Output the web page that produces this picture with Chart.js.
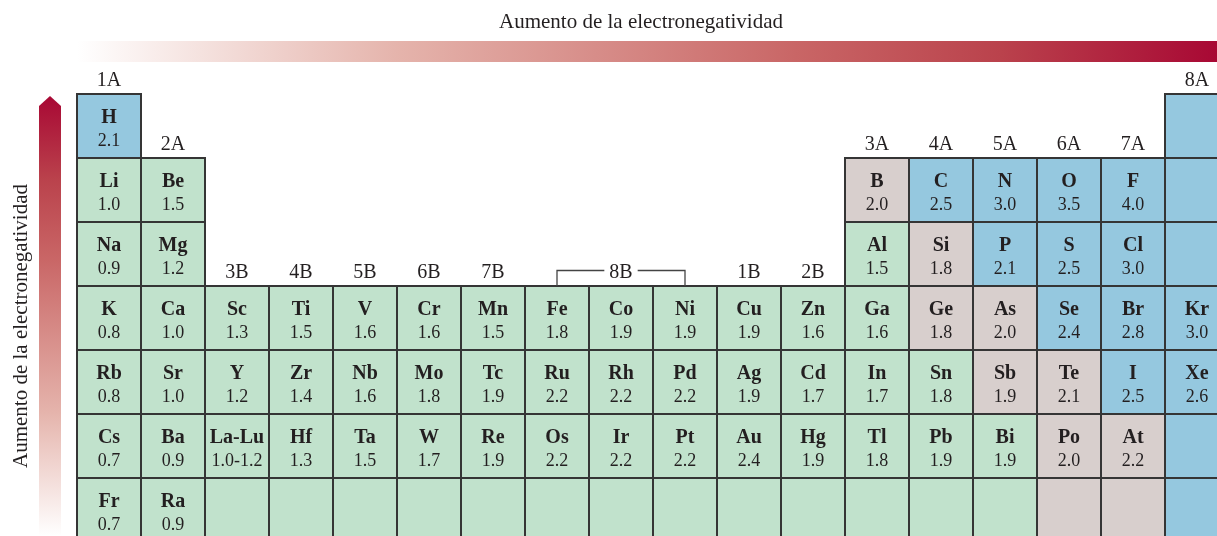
<!DOCTYPE html>
<html>
<head>
<meta charset="utf-8">
<script src="https://cdn.jsdelivr.net/npm/chart.js@4/dist/chart.umd.min.js"></script>
<style>
  html, body { margin: 0; padding: 0; background: #fff; }
  #tabla { display: block; }
</style>
</head>
<body>
<canvas id="tabla" width="1217" height="536"></canvas>
<script>
// Electronegatividad por periodo (columna 1..18). _ = sin casilla, '' = casilla vacía
const _ = null;

const period1Symbols = ['H', _, _, _, _, _, _, _, _, _, _, _, _, _, _, _, _, ''];
const period1Values  = [2.1, _, _, _, _, _, _, _, _, _, _, _, _, _, _, _, _, _];
const period1Kinds   = 'n................n';

const period2Symbols = ['Li', 'Be', _, _, _, _, _, _, _, _, _, _, 'B', 'C', 'N', 'O', 'F', ''];
const period2Values  = [1.0, 1.5, _, _, _, _, _, _, _, _, _, _, 2.0, 2.5, 3.0, 3.5, 4.0, _];
const period2Kinds   = 'mm..........snnnnn';

const period3Symbols = ['Na', 'Mg', _, _, _, _, _, _, _, _, _, _, 'Al', 'Si', 'P', 'S', 'Cl', ''];
const period3Values  = [0.9, 1.2, _, _, _, _, _, _, _, _, _, _, 1.5, 1.8, 2.1, 2.5, 3.0, _];
const period3Kinds   = 'mm..........msnnnn';

const period4Symbols = ['K', 'Ca', 'Sc', 'Ti', 'V', 'Cr', 'Mn', 'Fe', 'Co', 'Ni', 'Cu', 'Zn', 'Ga', 'Ge', 'As', 'Se', 'Br', 'Kr'];
const period4Values  = [0.8, 1.0, 1.3, 1.5, 1.6, 1.6, 1.5, 1.8, 1.9, 1.9, 1.9, 1.6, 1.6, 1.8, 2.0, 2.4, 2.8, 3.0];
const period4Kinds   = 'mmmmmmmmmmmmmssnnn';

const period5Symbols = ['Rb', 'Sr', 'Y', 'Zr', 'Nb', 'Mo', 'Tc', 'Ru', 'Rh', 'Pd', 'Ag', 'Cd', 'In', 'Sn', 'Sb', 'Te', 'I', 'Xe'];
const period5Values  = [0.8, 1.0, 1.2, 1.4, 1.6, 1.8, 1.9, 2.2, 2.2, 2.2, 1.9, 1.7, 1.7, 1.8, 1.9, 2.1, 2.5, 2.6];
const period5Kinds   = 'mmmmmmmmmmmmmmssnn';

const period6Symbols = ['Cs', 'Ba', 'La-Lu', 'Hf', 'Ta', 'W', 'Re', 'Os', 'Ir', 'Pt', 'Au', 'Hg', 'Tl', 'Pb', 'Bi', 'Po', 'At', ''];
const period6Values  = [0.7, 0.9, [1.0, 1.2], 1.3, 1.5, 1.7, 1.9, 2.2, 2.2, 2.2, 2.4, 1.9, 1.8, 1.9, 1.9, 2.0, 2.2, _];
const period6Kinds   = 'mmmmmmmmmmmmmmmssn';

const period7Symbols = ['Fr', 'Ra', '', '', '', '', '', '', '', '', '', '', '', '', '', '', '', ''];
const period7Values  = [0.7, 0.9, _, _, _, _, _, _, _, _, _, _, _, _, _, _, _, _];
const period7Kinds   = 'mmmmmmmmmmmmmmmssn';

const groupLabels = ['1A', '2A', '3B', '4B', '5B', '6B', '7B', '', '8B', '', '1B', '2B', '3A', '4A', '5A', '6A', '7A', '8A'];
const bracketGroup = [8, 10];   // 8B abarca las columnas 8-10

const axisTitle = 'Aumento de la electronegatividad';

// m = metal, s = metaloide, n = no metal
const palette = { m: '#c1e2cc', s: '#d8cfcd', n: '#95c8df' };
const ink = '#231f20';
const serif = '"Liberation Serif", "Times New Roman", serif';

const periods = [
  [period1Symbols, period1Values, period1Kinds],
  [period2Symbols, period2Values, period2Kinds],
  [period3Symbols, period3Values, period3Kinds],
  [period4Symbols, period4Values, period4Kinds],
  [period5Symbols, period5Values, period5Kinds],
  [period6Symbols, period6Values, period6Kinds],
  [period7Symbols, period7Values, period7Kinds],
];

// cada casilla es una barra flotante [fila-1, fila] centrada en su columna
const cells = [];
periods.forEach(([syms, vals, kinds], r) => {
  syms.forEach((s, c) => {
    if (s === null) return;
    cells.push({ x: c + 0.5, y: [r, r + 1], sym: s, val: vals[c], kind: kinds[c] });
  });
});

function fmtValue(v) {
  if (v === null || v === undefined) return '';
  if (Array.isArray(v)) return v.map(n => n.toFixed(1)).join('-');
  return v.toFixed(1);
}

function redGradient(ctx, x0, y0, x1, y1) {
  const g = ctx.createLinearGradient(x0, y0, x1, y1);
  g.addColorStop(0, 'rgba(255,255,255,1)');
  g.addColorStop(0.28, 'rgb(229,180,172)');
  g.addColorStop(0.63, 'rgb(201,102,102)');
  g.addColorStop(0.81, 'rgb(186,66,76)');
  g.addColorStop(1, 'rgb(168,8,52)');
  return g;
}

const cellPx = 64;
const padLeft = 77, padTop = 94;

const tablePlugin = {
  id: 'tabla',
  beforeDatasetsDraw(chart) {
    const ctx = chart.ctx;
    const area = chart.chartArea;
    ctx.save();

    // título superior + barra degradada
    ctx.fillStyle = ink;
    ctx.font = '21px ' + serif;
    ctx.textAlign = 'center';
    ctx.textBaseline = 'alphabetic';
    ctx.fillText(axisTitle, 641, 28);

    ctx.fillStyle = redGradient(ctx, area.left, 0, area.right, 0);
    ctx.fillRect(area.left, 41, area.right - area.left, 21);

    // flecha vertical
    ctx.fillStyle = redGradient(ctx, 0, chart.height, 0, 96);
    ctx.beginPath();
    ctx.moveTo(50, 96);
    ctx.lineTo(61, 106);
    ctx.lineTo(61, chart.height);
    ctx.lineTo(39, chart.height);
    ctx.lineTo(39, 106);
    ctx.closePath();
    ctx.fill();

    ctx.translate(27, 468);
    ctx.rotate(-Math.PI / 2);
    ctx.fillStyle = ink;
    ctx.textAlign = 'left';
    ctx.fillText(axisTitle, 0, 0);
    ctx.restore();
  },
  afterDatasetsDraw(chart) {
    const ctx = chart.ctx;
    const xs = chart.scales.x, ys = chart.scales.y;
    const meta = chart.getDatasetMeta(0);
    ctx.save();

    // bordes de casillas
    ctx.strokeStyle = '#353535';
    ctx.lineWidth = 2;
    meta.data.forEach(el => {
      const p = el.getProps(['x', 'y', 'base', 'width'], true);
      const top = Math.min(p.y, p.base);
      ctx.strokeRect(p.x - p.width / 2, top, p.width, Math.abs(p.base - p.y));
    });

    // símbolo y valor
    ctx.fillStyle = ink;
    ctx.textAlign = 'center';
    ctx.textBaseline = 'alphabetic';
    meta.data.forEach((el, i) => {
      const raw = cells[i];
      if (!raw.sym) return;
      const p = el.getProps(['x', 'y', 'base'], true);
      const top = Math.min(p.y, p.base);
      ctx.font = 'bold 20px ' + serif;
      ctx.fillText(raw.sym, p.x, top + 28.5);
      ctx.font = '18px ' + serif;
      ctx.fillText(fmtValue(raw.val), p.x, top + 52);
    });

    // etiquetas de grupo
    ctx.font = '20px ' + serif;
    groupLabels.forEach((label, c) => {
      if (!label) return;
      const r = periods.findIndex(p => p[0][c] !== null);
      const cx = xs.getPixelForValue(c + 0.5);
      const by = ys.getPixelForValue(r) - 8;
      ctx.fillText(label, cx, by);
      if (c + 1 > bracketGroup[0] && c + 1 < bracketGroup[1]) {
        const x0 = xs.getPixelForValue(bracketGroup[0] - 0.5);
        const x1 = xs.getPixelForValue(bracketGroup[1] - 0.5);
        const half = ctx.measureText(label).width / 2 + 5;
        const ly = by - 7.5;
        const bottom = ys.getPixelForValue(r);
        ctx.strokeStyle = '#444';
        ctx.lineWidth = 1.3;
        ctx.beginPath();
        ctx.moveTo(x0, bottom);
        ctx.lineTo(x0, ly);
        ctx.lineTo(cx - half, ly);
        ctx.moveTo(cx + half, ly);
        ctx.lineTo(x1, ly);
        ctx.lineTo(x1, bottom);
        ctx.stroke();
      }
    });
    ctx.restore();
  }
};

new Chart(document.getElementById('tabla'), {
  type: 'bar',
  data: {
    datasets: [{
      data: cells,
      backgroundColor: c => palette[c.raw ? c.raw.kind : 'm'],
      borderWidth: 0,
      borderSkipped: false,
      barPercentage: 1,
      categoryPercentage: 1,
    }],
  },
  options: {
    responsive: false,
    devicePixelRatio: 1,
    animation: false,
    events: [],
    layout: { padding: { left: padLeft, top: padTop, right: 0, bottom: 0 } },
    scales: {
      x: {
        type: 'linear',
        display: false,
        offset: false,
        grid: { offset: false },
        min: 0,
        max: (1217 - padLeft) / cellPx,
        ticks: { stepSize: 1, includeBounds: false },
      },
      y: {
        type: 'linear',
        display: false,
        reverse: true,
        min: 0,
        max: (536 - padTop) / cellPx,
        ticks: { stepSize: 1, includeBounds: false },
      },
    },
    plugins: {
      legend: { display: false },
      tooltip: { enabled: false },
      title: { display: false },
    },
  },
  plugins: [tablePlugin],
});
</script>
</body>
</html>
